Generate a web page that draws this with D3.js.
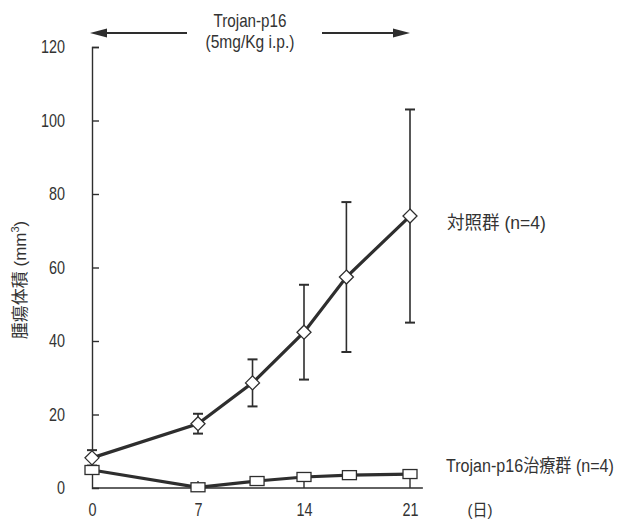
<!DOCTYPE html>
<html><head><meta charset="utf-8">
<script src="https://cdn.jsdelivr.net/npm/d3@7"></script>
<style>
body{margin:0;background:#fff;}
text{font-family:"Liberation Sans","Noto Sans CJK JP",sans-serif;fill:#333;}
</style></head>
<body><svg id="c" width="620" height="521"></svg>
<script>
// ---- data ----
const controlDays   = [0, 7, 10.6, 14, 16.8, 21];
const controlValues = [8.2, 17.5, 28.6, 42.4, 57.4, 74.0];
const controlErr    = [2.1, 2.7, 6.4, 12.9, 20.4, 29.0];
const treatedDays   = [0, 7, 10.9, 14, 17, 21];
const treatedValues = [4.9, 0.2, 1.9, 3.0, 3.5, 3.8];
const treatedErrUp  = [0, 1.7, 0, 0, 0, 0];
const treatedErrDn  = [0, 0, 0, 3.0, 0, 3.8];
const xTicks = [0, 7, 14, 21];
const yTicks = [0, 20, 40, 60, 80, 100, 120];
const xAxisEnd = 21.85;
const treatPeriod = [0, 21];
const labels = {
  control: "対照群 (n=4)",
  treated: "Trojan-p16治療群 (n=4)",
  drug1: "Trojan-p16",
  drug2: "(5mg/Kg i.p.)",
  yTitle: "腫瘍体積 (mm",
  xUnit: "(日)"
};

const svg = d3.select("#c");
const x = d3.scaleLinear().domain([0, 21]).range([92, 410]);
const y = d3.scaleLinear().domain([0, 120]).range([488, 47]);
const ink = "#2e2e2e";
const txt = "#333";
const FS = 18, SX = 0.8;

// text squeezed horizontally to a target width (scaled, not overflowing)
function label(px, py, str, len, anchor, size) {
  const t = svg.append("text").attr("x", 0).attr("y", 0)
    .attr("text-anchor", anchor || "start").attr("font-size", size || FS)
    .attr("fill", txt).text(str);
  const nat = t.node().getComputedTextLength();
  const s = len / nat;
  t.attr("transform", `translate(${px},${py}) scale(${s},1)`);
  return t;
}

// y axis
const ya = svg.append("g").attr("transform", `translate(${x(0)},0)`)
  .call(d3.axisLeft(y).tickValues(yTicks).tickSizeInner(-7).tickSizeOuter(-7).tickPadding(0));
ya.selectAll("path,line").attr("stroke", ink).attr("stroke-width", 1.4);
ya.selectAll("text").attr("font-size", FS).attr("fill", txt).attr("x", 0)
  .attr("transform", `translate(-27,0) scale(${SX},1)`)
  .style("font-family", '"Liberation Sans",sans-serif');
ya.selectAll(".tick").filter(d => d === 0).select("line").remove();

// x axis
const xa = svg.append("g").attr("transform", `translate(0,${y(0)})`)
  .call(d3.axisBottom(x).tickValues(xTicks).tickSize(0).tickPadding(15));
xa.select(".domain").remove();
xa.selectAll("text").attr("font-size", FS).attr("fill", txt)
  .attr("transform", `scale(${SX},1)`)
  .style("font-family", '"Liberation Sans",sans-serif');
svg.append("line").attr("x1", x(0)).attr("x2", x(xAxisEnd))
  .attr("y1", y(0)).attr("y2", y(0)).attr("stroke", ink).attr("stroke-width", 1.4);
label(480, 516, labels.xUnit, 25, "middle", 17);

// y title
const yt = svg.append("text").attr("transform", `translate(26,280) rotate(-90)`)
  .attr("text-anchor", "middle").attr("font-size", 17).attr("fill", "#303030")
  .text(labels.yTitle);
yt.append("tspan").attr("font-size", 11).attr("dy", -7).text("3");
yt.append("tspan").attr("dy", 7).text(")");

// treatment arrow
const arrowY = 33;
label(250, 27, labels.drug1, 73, "middle");
label(250, 48, labels.drug2, 89, "middle");
const la = x(treatPeriod[0]) - 2, ra = x(treatPeriod[1]);
svg.append("line").attr("x1", la + 12).attr("x2", 187).attr("y1", arrowY).attr("y2", arrowY)
  .attr("stroke", ink).attr("stroke-width", 2);
svg.append("line").attr("x1", 322).attr("x2", ra - 12).attr("y1", arrowY).attr("y2", arrowY)
  .attr("stroke", ink).attr("stroke-width", 2);
svg.append("path").attr("d", `M${la},${arrowY} L${la+17},${arrowY-4.5} L${la+17},${arrowY+4.5}Z`).attr("fill", ink);
svg.append("path").attr("d", `M${ra},${arrowY} L${ra-17},${arrowY-4.5} L${ra-17},${arrowY+4.5}Z`).attr("fill", ink);

// error bars control
const cap = 5;
controlDays.forEach((d, i) => {
  const cx = x(d), hi = y(controlValues[i] + controlErr[i]), lo = y(controlValues[i] - controlErr[i]);
  const g = svg.append("g").attr("stroke", ink).attr("stroke-width", 1.6);
  g.append("line").attr("x1", cx).attr("x2", cx).attr("y1", hi).attr("y2", lo);
  g.append("line").attr("x1", cx - cap).attr("x2", cx + cap).attr("y1", hi).attr("y2", hi).attr("stroke-width", 2);
  g.append("line").attr("x1", cx - cap).attr("x2", cx + cap).attr("y1", lo).attr("y2", lo).attr("stroke-width", 2);
});
// error bars treated
treatedDays.forEach((d, i) => {
  const cx = x(d), v = treatedValues[i];
  if (treatedErrUp[i] > 0)
    svg.append("line").attr("x1", cx).attr("x2", cx).attr("y1", y(v)).attr("y2", y(v + treatedErrUp[i]))
      .attr("stroke", ink).attr("stroke-width", 1.4);
  if (treatedErrDn[i] > 0)
    svg.append("line").attr("x1", cx).attr("x2", cx).attr("y1", y(v)).attr("y2", y(v - treatedErrDn[i]))
      .attr("stroke", ink).attr("stroke-width", 1.4);
});

// lines
const line = d3.line();
svg.append("path").attr("d", line(controlDays.map((d, i) => [x(d), y(controlValues[i])])))
  .attr("fill", "none").attr("stroke", ink).attr("stroke-width", 3.2);
svg.append("path").attr("d", line(treatedDays.map((d, i) => [x(d), y(treatedValues[i])])))
  .attr("fill", "none").attr("stroke", ink).attr("stroke-width", 3.2);

// markers
const dr = 7;
svg.selectAll(".dia").data(controlDays).join("path")
  .attr("d", (d, i) => { const cx = x(d), cy = y(controlValues[i]);
    return `M${cx},${cy-dr} L${cx+dr},${cy} L${cx},${cy+dr} L${cx-dr},${cy}Z`; })
  .attr("fill", "#fff").attr("stroke", ink).attr("stroke-width", 1.3);
svg.selectAll(".sq").data(treatedDays).join("rect")
  .attr("x", d => x(d) - 7).attr("y", (d, i) => y(treatedValues[i]) - 4.5)
  .attr("width", 14).attr("height", 9)
  .attr("fill", "#fff").attr("stroke", ink).attr("stroke-width", 1.3);

// series labels
label(447, y(controlValues[5]) + 13, labels.control, 99);
label(446, y(treatedValues[5]) - 2, labels.treated, 168);
</script></body></html>
